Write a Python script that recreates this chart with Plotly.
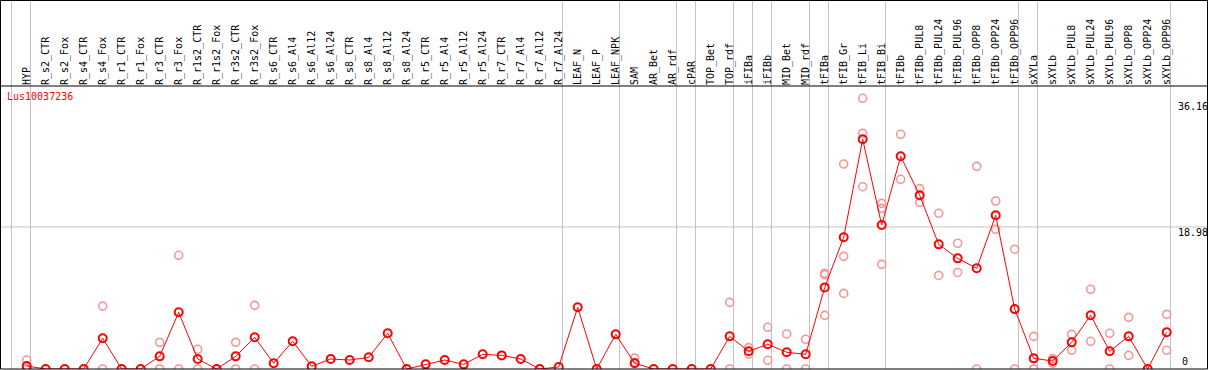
import plotly.graph_objects as go

categories = [
    "HYP",
    "R_s2_CTR", "R_s2_Fox", "R_s4_CTR", "R_s4_Fox", "R_r1_CTR", "R_r1_Fox",
    "R_r3_CTR", "R_r3_Fox", "R_r1s2_CTR", "R_r1s2_Fox", "R_r3s2_CTR", "R_r3s2_Fox",
    "R_s6_CTR", "R_s6_Al4", "R_s6_Al12", "R_s6_Al24",
    "R_s8_CTR", "R_s8_Al4", "R_s8_Al12", "R_s8_Al24",
    "R_r5_CTR", "R_r5_Al4", "R_r5_Al12", "R_r5_Al24",
    "R_r7_CTR", "R_r7_Al4", "R_r7_Al12", "R_r7_Al24",
    "LEAF_N", "LEAF_P", "LEAF_NPK",
    "SAM", "AR_Bet", "AR_rdf",
    "cPAR",
    "TOP_Bet", "TOP_rdf",
    "iFIBa",
    "iFIBb",
    "MID_Bet", "MID_rdf",
    "tFIBa",
    "tFIB_Gr", "tFIB_Li", "tFIB_Bi",
    "tFIBb", "tFIBb_PUL8", "tFIBb_PUL24", "tFIBb_PUL96", "tFIBb_OPP8", "tFIBb_OPP24", "tFIBb_OPP96",
    "sXYLa",
    "sXYLb", "sXYLb_PUL8", "sXYLb_PUL24", "sXYLb_PUL96", "sXYLb_OPP8", "sXYLb_OPP24", "sXYLb_OPP96",
]

group_sizes = [1, 28, 3, 3, 1, 2, 1, 1, 2, 1, 3, 7, 1, 7]

mean_values = [
    0.4,
    0, 0, 0, 4.1, 0, 0, 1.69, 7.57, 1.34, 0, 1.69, 4.23,
    0.76, 3.7, 0.36, 1.34, 1.2, 1.56, 4.77, 0, 0.62, 1.2, 0.62, 1.96,
    1.82, 1.34, 0, 0.27,
    8.24, 0, 4.63,
    0.76, 0, 0,
    0,
    0, 4.36,
    2.36,
    3.3,
    2.23, 1.96,
    10.9,
    17.6, 30.68, 19.24,
    28.41, 23.2, 16.65, 14.78, 13.45, 20.53, 8.0,
    1.42,
    1.07, 3.56, 7.17, 2.36, 4.36, 0, 4.9,
]

N = None
rep_a = [
    1.2,
    N, N, N, 8.4, N, N, 3.56, 15.19, 2.63, N, 3.56, 8.5,
    N, N, N, N, N, N, N, N, N, N, N, N,
    N, N, N, N,
    N, N, N,
    1.45, N, N,
    N,
    N, 8.9,
    2.85,
    5.57,
    4.68, 3.97,
    12.78,
    27.38, 36.16, 22.13,
    31.35, 24.1, 20.8, 16.8, 27.07, 22.44, 16.0,
    4.36,
    1.38, 4.63, 10.65, 4.77, 6.9, N, 7.3,
]
rep_b = [
    0,
    N, N, N, 0, N, N, 0, 0, 0, N, 0, 0,
    N, N, N, N, N, N, N, N, N, N, N, N,
    N, N, N, N,
    N, N, N,
    0.9, N, N,
    N,
    N, 0,
    2.0,
    1.16,
    0, 0,
    12.6,
    15.05, 31.48, 21.46,
    25.34, 22.26, 12.5, 12.9, 0, 18.66, 0,
    0,
    0.76, 2.5, 3.7, 0, 1.82, N, 2.5,
]
rep_c = [
    0,
    N, N, N, N, N, N, N, N, N, N, N, N,
    N, N, N, N, N, N, N, N, N, N, N, N,
    N, N, N, N,
    N, N, N,
    N, N, N,
    N,
    N, N,
    N,
    N,
    N, N,
    7.17,
    10.1, 24.35, 13.98,
    N, N, N, N, N, N, N,
    0,
    N, N, N, N, N, N, N,
]

gene_label = "Lus10037236"
y_tick_labels = ["36.16", "18.98", "0"]
y_ref_line = 18.98

W, H = 1209, 370
x_idx = list(range(len(categories)))

fig = go.Figure()

rep_x, rep_y = [], []
for reps in (rep_a, rep_b, rep_c):
    for i, v in enumerate(reps):
        if v is not None:
            rep_x.append(i)
            rep_y.append(v)

fig.add_trace(go.Scatter(
    x=rep_x, y=rep_y, mode="markers",
    marker=dict(symbol="circle-open", size=8, color="#ee9999",
                line=dict(width=1.6, color="#ee9999")),
    hoverinfo="skip", showlegend=False,
))
fig.add_trace(go.Scatter(
    x=x_idx, y=mean_values, mode="lines+markers",
    line=dict(color="#ff0000", width=1),
    marker=dict(symbol="circle-open", size=8, color="#ff0000",
                line=dict(width=2, color="#ff0000")),
    showlegend=False,
))

# Layout geometry
px_per_x = 19.0
x0_px = 26.7
x_range = [-x0_px / px_per_x, (W - x0_px) / px_per_x]
bottom_px, top_px = 369, 86
px_per_y = 7.486
y_range = [0, (bottom_px - top_px) / px_per_y]
y_dom = [(H - bottom_px) / H, (H - top_px) / H]

shapes = []
pos = -1
bounds = [pos]
for s in group_sizes:
    pos += s
    bounds.append(pos)
for b in bounds:
    shapes.append(dict(type="line", xref="x", yref="paper", x0=b + 0.2, x1=b + 0.2,
                       y0=y_dom[0], y1=1, line=dict(color="#c4c4c4", width=1), layer="below"))
shapes.append(dict(type="line", xref="paper", yref="y", x0=0, x1=1207.5 / W,
                   y0=y_ref_line, y1=y_ref_line, line=dict(color="#c4c4c4", width=1), layer="below"))
shapes.append(dict(type="rect", xref="paper", yref="paper", x0=0.5 / W, x1=1207.5 / W,
                   y0=y_dom[0], y1=1 - 0.5 / H, line=dict(color="black", width=1)))
shapes.append(dict(type="line", xref="paper", yref="paper", x0=0, x1=1207.5 / W,
                   y0=y_dom[1], y1=y_dom[1], line=dict(color="black", width=1)))

annotations = [
    dict(text=gene_label, xref="paper", yref="paper", x=5 / W, y=(H - 96.7) / H,
         xanchor="left", yanchor="middle", showarrow=False,
         font=dict(family="DejaVu Sans Mono", size=10, color="#ff0000")),
]
tick_pix = [106.7, 232.7, 361.7]
tick_x = [1176, 1176, 1180]
for t, py, px in zip(y_tick_labels, tick_pix, tick_x):
    annotations.append(dict(text=t, xref="paper", yref="paper", x=px / W, y=(H - py) / H,
                            xanchor="left", yanchor="middle", showarrow=False,
                            font=dict(family="DejaVu Sans Mono", size=10, color="black")))

fig.update_layout(
    width=W, height=H,
    margin=dict(l=0, r=0, t=0, b=0),
    paper_bgcolor="white", plot_bgcolor="white",
    xaxis=dict(range=x_range, domain=[0, 1], side="top", tickmode="array",
               tickvals=x_idx, ticktext=categories, tickangle=-90,
               tickfont=dict(family="DejaVu Sans Mono", size=10, color="black"),
               showgrid=False, zeroline=False, ticks="", showline=False, fixedrange=True),
    yaxis=dict(range=y_range, domain=y_dom, showgrid=False, zeroline=False,
               showticklabels=False, ticks="", showline=False, fixedrange=True),
    shapes=shapes, annotations=annotations,
    showlegend=False,
)

fig.write_html("out.html", config={"displayModeBar": False},
               post_script="document.body.style.margin='0px';document.body.style.overflow='hidden';")
